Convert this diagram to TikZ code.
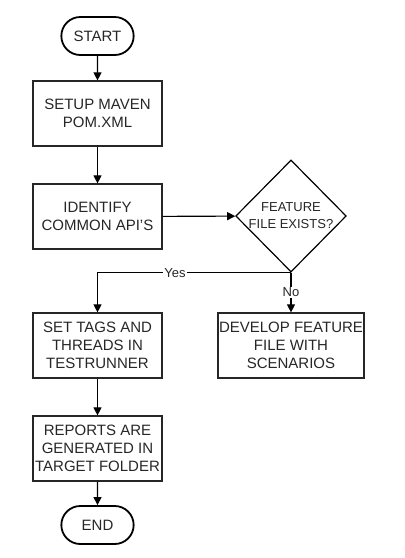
\documentclass[tikz,border=0pt]{standalone}
\usepackage{fontspec}
\setmainfont{Liberation Sans}
\usetikzlibrary{shapes.misc,shapes.geometric,arrows.meta}
\begin{document}
\begin{tikzpicture}[
        x=1pt, y=-1pt, % pixel grid of the reference
        font=\fontsize{15}{18}\selectfont,
        line width=1.1pt,
        >={Triangle[length=8pt,width=8pt]},
        term/.style={rounded rectangle, draw=black, line width=1.8pt, minimum width=79pt, minimum height=38pt, text=black!85},
        proc/.style={rectangle, draw=black!85, line width=1.2pt, minimum width=129pt, minimum height=65pt, align=center, inner sep=1pt, text=black!85},
        decide/.style={diamond, draw=black, line width=1.2pt, minimum width=102pt, minimum height=112pt, align=center, inner sep=0pt, font=\fontsize{13}{17}\selectfont, text=black!85},
        tag/.style={fill=white, inner sep=1pt, font=\fontsize{13}{14}\selectfont, text=black!85}
    ]
    \useasboundingbox (0,0) rectangle (405,558);

    % Main column
    \node[term] (start) at (97.5, 36) {START};
    \node[proc] (setup) at (97.5, 113.5) {SETUP MAVEN\\POM.XML};
    \node[proc] (ident) at (97.5, 216.5) {IDENTIFY\\COMMON API'S};
    \node[decide] (exists) at (291, 216) {FEATURE\\FILE EXISTS?};
    \node[proc] (tags) at (97.5, 345.5) {SET TAGS AND\\THREADS IN\\TESTRUNNER};
    \node[proc, minimum width=142pt] (develop) at (291, 345.5) {DEVELOP FEATURE\\FILE WITH\\SCENARIOS};
    \node[proc] (reports) at (97.5, 448.5) {REPORTS ARE\\GENERATED IN\\TARGET FOLDER};
    \node[term] (end) at (97.5, 525) {END};

    % Connectors
    \draw[->] (start) -- (setup);
    \draw[->] (setup) -- (ident);
    \draw[->] (ident) -- (exists);
    \draw[->] (exists.south) -| node[tag, pos=0.3] {Yes} (tags.north);
    \draw[->] (exists.south) -- node[tag] {No} (develop.north);
    \draw[->] (tags) -- (reports);
    \draw[->] (reports) -- (end);

\end{tikzpicture}
\end{document}
